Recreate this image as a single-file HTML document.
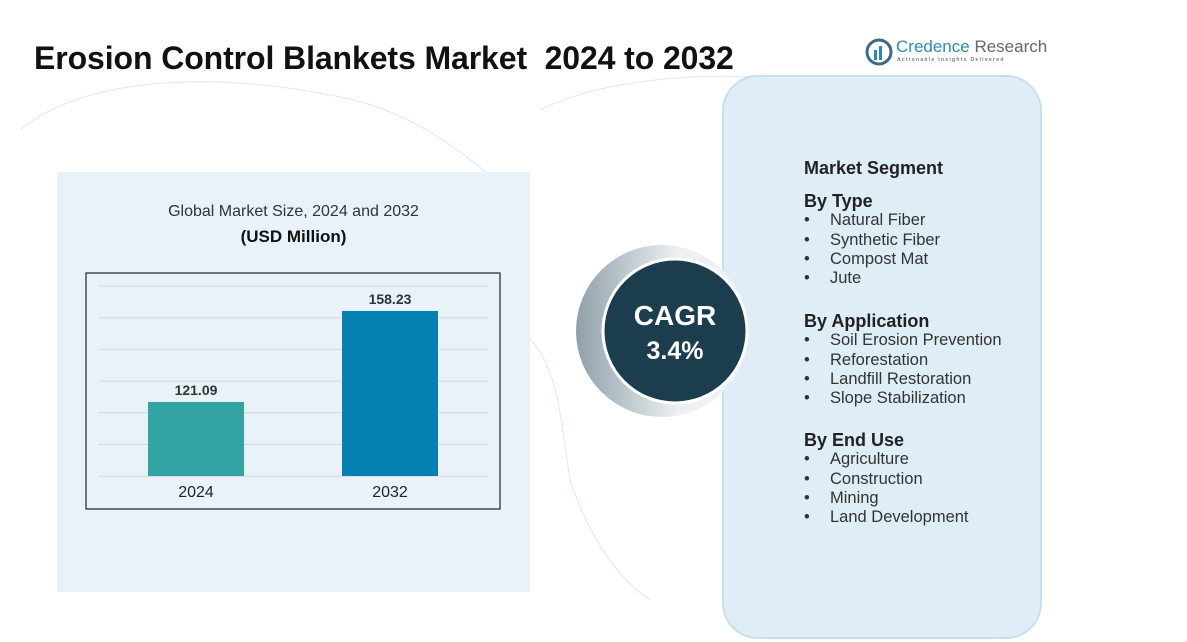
<!DOCTYPE html>
<html><head><meta charset="utf-8"><style>
body{margin:0;width:1187px;height:642px;background:#fff;position:relative;overflow:hidden;font-family:"Liberation Sans",sans-serif;}
.abs{position:absolute;}
h1{position:absolute;left:34px;top:40px;margin:0;font-size:32px;font-weight:bold;color:#111;letter-spacing:-0.1px;white-space:nowrap;}
.seg{position:absolute;left:804px;color:#222;}
.hd{font-weight:bold;font-size:18px;}
.it{font-size:16.5px;color:#333;}
.it span{display:inline-block;width:26px;}
</style></head><body>
<svg class="abs" style="left:0;top:0" width="1187" height="642">
<g fill="none" stroke="#e3ebf1" stroke-width="1.2">
<path d="M20 130 C80 80 200 70 330 95 C420 110 470 160 520 200"/>
<path d="M540 110 C600 80 700 70 800 80"/>
<path d="M520 330 C560 360 560 420 570 480 C590 540 620 580 650 600"/>
</g></svg>
<h1>Erosion Control Blankets Market&nbsp; 2024 to 2032</h1>
<div class="abs" style="left:865px;top:38px;">
<svg width="28" height="28" style="position:absolute;left:0;top:0"><circle cx="14" cy="14" r="12" fill="none" stroke="#3a6b8a" stroke-width="3"/><rect x="9" y="12" width="3" height="10" fill="#2b8bb8"/><rect x="14" y="8" width="3" height="14" fill="#2b8bb8"/></svg>
<div style="position:absolute;left:31px;top:-1px;font-size:17px;white-space:nowrap;"><span style="color:#2b8bb8">Credence</span> <span style="color:#666">Research</span></div>
<div style="position:absolute;left:32px;top:19px;font-size:5px;letter-spacing:1.3px;color:#777;white-space:nowrap;font-weight:bold">Actionable Insights Delivered</div>
</div>
<div class="abs" style="left:57px;top:172px;width:473px;height:420px;background:#e9f2f9;"></div>
<div class="abs" style="left:57px;top:203px;width:473px;text-align:center;font-size:16px;color:#333;">Global Market Size, 2024 and 2032</div>
<div class="abs" style="left:57px;top:227px;width:473px;text-align:center;font-size:17px;font-weight:bold;color:#111;">(USD Million)</div>
<svg class="abs" style="left:0;top:0" width="560" height="600" id="chart">
<rect x="86" y="273" width="414" height="236" fill="none" stroke="#222" stroke-width="1.2"/>
</svg>
<div class="abs" style="left:722px;top:75px;width:316px;height:560px;background:#deedf6;border:2px solid #c6e0ee;border-radius:36px;"></div>
<svg class="abs" style="left:570px;top:240px" width="200" height="190">
<defs><linearGradient id="g" x1="0" x2="1"><stop offset="0" stop-color="#8fa0aa"/><stop offset="0.6" stop-color="#eef1f3"/></linearGradient></defs>
<circle cx="92" cy="91" r="86" fill="url(#g)"/>
<circle cx="105" cy="91" r="72" fill="#1b3d4e" stroke="#fff" stroke-width="3"/>
<text x="105" y="85" text-anchor="middle" font-size="28" font-weight="bold" fill="#fff" font-family="Liberation Sans">CAGR</text>
<text x="105" y="119" text-anchor="middle" font-size="25" font-weight="bold" fill="#fff" font-family="Liberation Sans">3.4%</text>
</svg>
<div class="seg hd" style="top:158px;">Market Segment</div>
<div class="seg" style="top:192px;line-height:19.3px;">
<div class="hd">By Type</div>
<div class="it"><span>•</span>Natural Fiber</div><div class="it"><span>•</span>Synthetic Fiber</div><div class="it"><span>•</span>Compost Mat</div><div class="it"><span>•</span>Jute</div>
</div>
<div class="seg" style="top:312px;line-height:19.3px;">
<div class="hd">By Application</div>
<div class="it"><span>•</span>Soil Erosion Prevention</div><div class="it"><span>•</span>Reforestation</div><div class="it"><span>•</span>Landfill Restoration</div><div class="it"><span>•</span>Slope Stabilization</div>
</div>
<div class="seg" style="top:431px;line-height:19.3px;">
<div class="hd">By End Use</div>
<div class="it"><span>•</span>Agriculture</div><div class="it"><span>•</span>Construction</div><div class="it"><span>•</span>Mining</div><div class="it"><span>•</span>Land Development</div>
</div>
<script>
const categories=["2024","2032"];
const values=[121.09,158.23];
const labels=["121.09","158.23"];
const colors=["#34a3a3","#0580b2"];
const svg=document.getElementById('chart');
const NS="http://www.w3.org/2000/svg";
const y0=476, vmin=90.9, k=2.451;
function yScale(v){return y0-(v-vmin)*k;}
function xScale(i){return 148+i*194;}
const bw=96;
for(let g=0;g<7;g++){
 const l=document.createElementNS(NS,'line');
 const gy=286+g*31.7;
 l.setAttribute('x1',98);l.setAttribute('x2',488);l.setAttribute('y1',gy);l.setAttribute('y2',gy);
 l.setAttribute('stroke','#d3d8dc');l.setAttribute('stroke-width','1');
 
 
 svg.appendChild(l);
}
categories.forEach((c,i)=>{
 const x=xScale(i), y=yScale(values[i]);
 const r=document.createElementNS(NS,'rect');
 r.setAttribute('x',x);r.setAttribute('y',y);r.setAttribute('width',bw);r.setAttribute('height',y0-y);r.setAttribute('fill',colors[i]);
 
 
 svg.appendChild(r);
 const t=document.createElementNS(NS,'text');
 t.setAttribute('x',x+bw/2);t.setAttribute('y',y-7);t.setAttribute('text-anchor','middle');
 t.setAttribute('font-size','14');t.setAttribute('font-weight','bold');t.setAttribute('fill','#333');t.setAttribute('font-family','Liberation Sans');
 t.textContent=labels[i];
 
 
 svg.appendChild(t);
 const a=document.createElementNS(NS,'text');
 a.setAttribute('x',x+bw/2);a.setAttribute('y',497);a.setAttribute('text-anchor','middle');
 a.setAttribute('font-size','16');a.setAttribute('fill','#222');a.setAttribute('font-family','Liberation Sans');
 a.textContent=c;
 
 
 svg.appendChild(a);
});
</script>
</body></html>
